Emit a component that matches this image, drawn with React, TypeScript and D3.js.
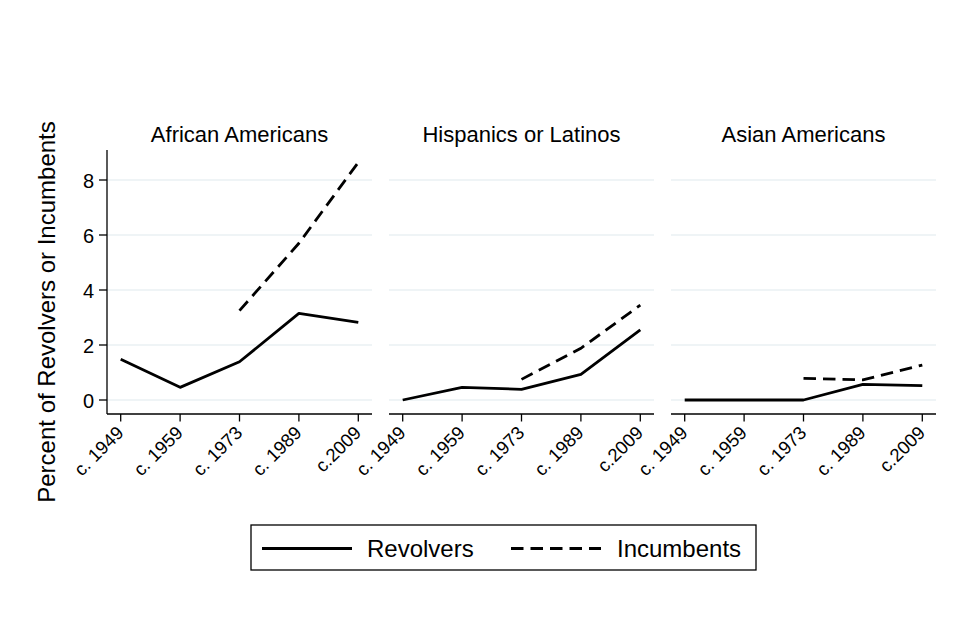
import React from "react";
import * as d3 from "d3";

const periods = ["c. 1949", "c. 1959", "c. 1973", "c. 1989", "c.2009"];
const groups = ["African Americans", "Hispanics or Latinos", "Asian Americans"];
const yTicks = [0, 2, 4, 6, 8];

// Percent of revolvers, by group and period
const revolversAfrican = [1.48, 0.46, 1.39, 3.15, 2.82];
const revolversHispanic = [0.0, 0.46, 0.39, 0.93, 2.55];
const revolversAsian = [0.0, 0.0, 0.0, 0.57, 0.52];

// Percent of incumbents, available from c. 1973 onward
const incumbentsAfrican = [null, null, 3.25, 5.7, 8.64];
const incumbentsHispanic = [null, null, 0.75, 1.88, 3.45];
const incumbentsAsian = [null, null, 0.79, 0.73, 1.27];

const revolvers = [revolversAfrican, revolversHispanic, revolversAsian];
const incumbents = [incumbentsAfrican, incumbentsHispanic, incumbentsAsian];

const W = 959;
const H = 641;
const panelLefts = [107, 389, 671];
const panelWidth = 265;
const plotTop = 150;
const plotBottom = 414;
const font = "'Liberation Sans', Arial, Helvetica, sans-serif";
const dash = "12.5,7";
const lw = 2.8;

export default function App() {
  const y = d3.scaleLinear().domain([0, 8]).range([400, 180]);

  const line = (x: d3.ScalePoint<string>) =>
    d3
      .line<number | null>()
      .defined((d) => d !== null)
      .x((_, i) => x(periods[i]) as number)
      .y((d) => y(d as number));

  return (
    <svg width={W} height={H} style={{ display: "block", position: "absolute", left: 0, top: 0 }}>
      <rect width={W} height={H} fill="#fff" />
      <text
        transform={`translate(55,${312}) rotate(-90)`}
        textAnchor="middle"
        fontFamily={font}
        fontSize={24}
        fill="#000"
      >
        Percent of Revolvers or Incumbents
      </text>
      {groups.map((g, gi) => {
        const left = panelLefts[gi];
        const x = d3
          .scalePoint<string>()
          .domain(periods)
          .range([left + 13.7, left + panelWidth - 13.7]);
        const gen = line(x);
        return (
          <g key={g}>
            <text
              x={left + panelWidth / 2}
              y={142}
              textAnchor="middle"
              fontFamily={font}
              fontSize={22}
              fill="#000"
            >
              {g}
            </text>
            {yTicks.map((t) => (
              <line
                key={t}
                x1={left}
                x2={left + panelWidth}
                y1={y(t)}
                y2={y(t)}
                stroke="#eaf0f3"
                strokeWidth={1.3}
              />
            ))}
            {gi === 0 && (
              <g>
                <line x1={left} x2={left} y1={plotTop} y2={plotBottom} stroke="#000" strokeWidth={1.3} />
                {yTicks.map((t) => (
                  <g key={t}>
                    <line x1={left - 8} x2={left} y1={y(t)} y2={y(t)} stroke="#000" strokeWidth={1.3} />
                    <text
                      x={left - 13}
                      y={y(t) + 7.5}
                      textAnchor="end"
                      fontFamily={font}
                      fontSize={20}
                      fill="#000"
                    >
                      {t}
                    </text>
                  </g>
                ))}
              </g>
            )}
            <line
              x1={left}
              x2={left + panelWidth}
              y1={plotBottom}
              y2={plotBottom}
              stroke="#000"
              strokeWidth={1.3}
            />
            {periods.map((p) => (
              <g key={p}>
                <line
                  x1={x(p)}
                  x2={x(p)}
                  y1={plotBottom}
                  y2={plotBottom + 7.5}
                  stroke="#000"
                  strokeWidth={1.3}
                />
                <text
                  transform={`translate(${(x(p) as number) + 4},${plotBottom + 20}) rotate(-45)`}
                  textAnchor="end"
                  fontFamily={font}
                  fontSize={18.5}
                  fill="#000"
                >
                  {p}
                </text>
              </g>
            ))}
            <path d={gen(revolvers[gi]) || ""} fill="none" stroke="#000" strokeWidth={lw} strokeLinejoin="round" />
            <path
              d={gen(incumbents[gi]) || ""}
              fill="none"
              stroke="#000"
              strokeWidth={lw}
              strokeDasharray={dash}
            />
          </g>
        );
      })}
      <g>
        <rect x={251} y={525} width={505} height={45} fill="#fff" stroke="#000" strokeWidth={1.3} />
        <line x1={262} x2={352} y1={548.5} y2={548.5} stroke="#000" strokeWidth={lw} />
        <text x={367} y={557} fontFamily={font} fontSize={24} fill="#000">
          Revolvers
        </text>
        <line x1={511} x2={601} y1={548.5} y2={548.5} stroke="#000" strokeWidth={lw} strokeDasharray={dash} />
        <text x={617} y={557} fontFamily={font} fontSize={24} fill="#000">
          Incumbents
        </text>
      </g>
    </svg>
  );
}
